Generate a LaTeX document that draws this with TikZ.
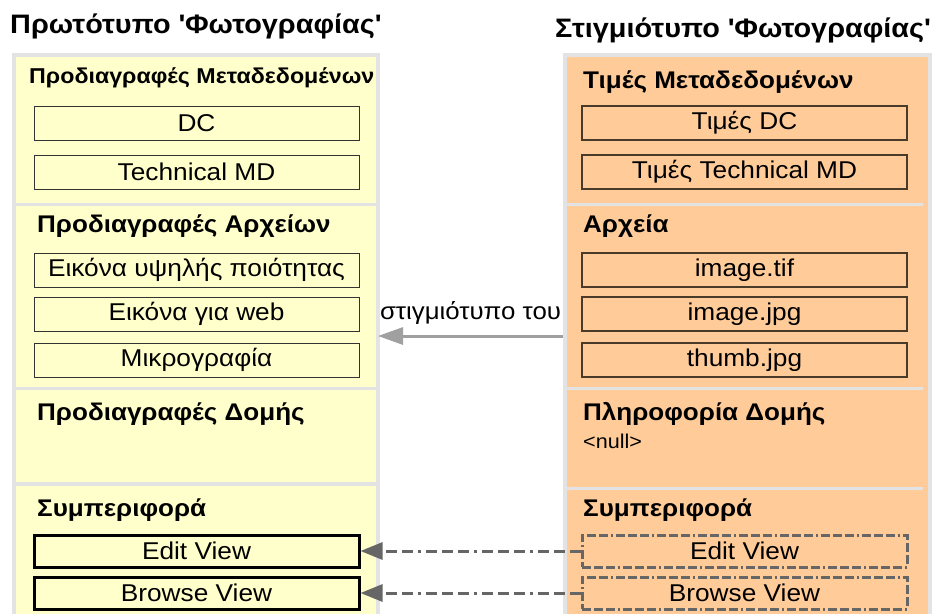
\documentclass[tikz,border=0pt]{standalone}
\usepackage{fontspec}
\setmainfont{Liberation Sans}[FakeStretch=1.08]
\usetikzlibrary{arrows.meta}
\definecolor{panelgray}{HTML}{E3E3E3}
\definecolor{protofill}{HTML}{FFFFCC}
\definecolor{instfill}{HTML}{FFCC99}
\definecolor{boxline}{HTML}{333333}
\definecolor{instline}{HTML}{4A3A2A}
\definecolor{linkgray}{HTML}{A0A0A0}
\definecolor{viewgray}{HTML}{666666}
\newcommand{\sq}{\textquotesingle}
\tikzset{
  title/.style={font=\fontsize{26.7}{30}\selectfont\bfseries, anchor=base west, inner sep=0pt},
  head/.style={font=\fontsize{24.1}{28}\selectfont\bfseries, anchor=base west, inner sep=0pt},
  smallhead/.style={font=\fontsize{21.5}{25}\selectfont\bfseries, anchor=base west, inner sep=0pt},
  plain/.style={font=\fontsize{20}{24}\selectfont, anchor=base west, inner sep=0pt},
  itembox/.style={minimum width=325pt, minimum height=34pt, inner sep=0pt,
    font=\fontsize{24.3}{27}\selectfont},
  protobox/.style={itembox, draw=boxline, line width=1pt, fill=protofill},
  instbox/.style={itembox, draw=instline, line width=1.2pt, fill=instfill},
  protoview/.style={itembox, minimum height=32pt, draw=black, line width=3pt, fill=protofill},
  instview/.style={itembox, minimum height=32pt, draw=viewgray, line width=3pt, fill=instfill,
    dash pattern=on 9pt off 3pt on 9pt off 3pt on 9pt off 3pt on 2pt off 3pt},
  linkarrow/.style={draw=linkgray, line width=3pt,
    -{Triangle[length=25pt,width=17pt,fill=linkgray]}},
  viewarrow/.style={draw=viewgray, line width=3pt,
    dash pattern=on 11pt off 5pt on 11pt off 5pt on 11pt off 5pt on 3pt off 5pt,
    -{Triangle[length=22pt,width=17pt,fill=viewgray]}},
}
\begin{document}
\begin{tikzpicture}[x=1pt,y=-1pt]
\useasboundingbox (0,0) rectangle (937,614);
\fill[white] (0,0) rectangle (937,614);

% titles
\node[title] (ttlproto) at (10,33) {Πρωτότυπο \sq Φωτογραφίας\sq};
\node[title] (ttlinst) at (555,37) {Στιγμιότυπο \sq Φωτογραφίας\sq};

% prototype panel
\fill[panelgray] (12,53) rectangle (380,614);
\fill[protofill] (16,57) rectangle (376,203);
\fill[protofill] (16,206) rectangle (376,387);
\fill[protofill] (16,390) rectangle (376,482);
\fill[protofill] (16,486) rectangle (376,614);
\coordinate (protoedge) at (378,336);

% instance panel
\fill[panelgray] (563,53) rectangle (932,614);
\fill[instfill] (567,57) rectangle (928,614);
\fill[panelgray] (567,203) rectangle (923,206);
\fill[panelgray] (567,387) rectangle (923,390);
\fill[panelgray] (567,487) rectangle (923,490);
\coordinate (instedge) at (563,336);

% prototype contents
\node[smallhead] (pmeta) at (29,83) {Προδιαγραφές Μεταδεδομένων};
\node[protobox] (pdc) at (196.5,123) {DC};
\node[protobox] (ptech) at (196.5,172) {Technical MD};
\node[head] (pfiles) at (37,232) {Προδιαγραφές Αρχείων};
\node[protobox] (phigh) at (196.5,270) {Εικόνα υψηλής ποιότητας};
\node[protobox] (pweb) at (196.5,314) {Εικόνα για web};
\node[protobox] (pthumb) at (196.5,360) {Μικρογραφία};
\node[head] (pstruct) at (37,420) {Προδιαγραφές Δομής};
\node[head] (pbehav) at (37,516) {Συμπεριφορά};
\node[protoview] (pedit) at (196.5,551) {Edit View};
\node[protoview] (pbrowse) at (196.5,593) {Browse View};

% instance contents
\node[head] (imeta) at (583,88) {Τιμές Μεταδεδομένων};
\node[instbox] (idc) at (744.5,123) {Τιμές DC};
\node[instbox] (itech) at (744.5,172) {Τιμές Technical MD};
\node[head] (ifiles) at (583,232) {Αρχεία};
\node[instbox] (ihigh) at (744.5,270) {image.tif};
\node[instbox] (iweb) at (744.5,314) {image.jpg};
\node[instbox] (ithumb) at (744.5,360) {thumb.jpg};
\node[head] (istruct) at (583,420) {Πληροφορία Δομής};
\node[plain] (inull) at (583,448) {<null>};
\node[head] (ibehav) at (583,516) {Συμπεριφορά};
\node[instview] (iedit) at (744.5,551) {Edit View};
\node[instview] (ibrowse) at (744.5,593) {Browse View};

% relations
\draw[linkarrow] (instedge) -- node[above=10pt, font=\fontsize{23.9}{27}\selectfont, inner sep=0pt] (lbl) {στιγμιότυπο του} (protoedge);
\draw[viewarrow] (iedit.west) -- (pedit.east);
\draw[viewarrow] (ibrowse.west) -- (pbrowse.east);
\end{tikzpicture}
\end{document}
